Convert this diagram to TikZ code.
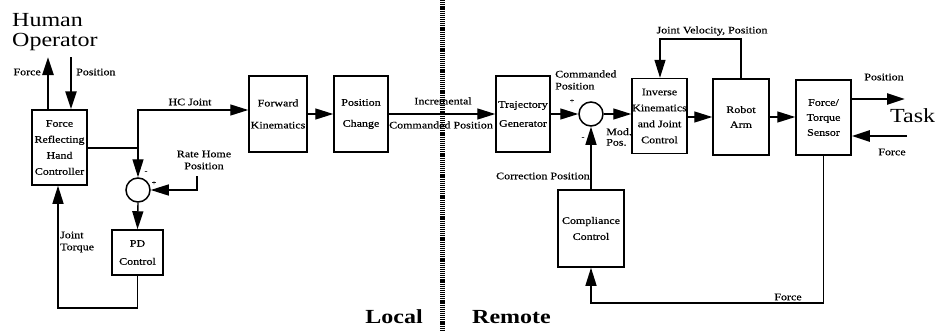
\documentclass[tikz,border=0pt]{standalone}
\usepackage{fontspec}
\setmainfont[FakeStretch=1.2]{Liberation Serif}
\newfontfamily\lblfam[FakeStretch=1.2,FakeBold=0.5]{Liberation Serif}
\usetikzlibrary{arrows.meta}
\begin{document}
\begin{tikzpicture}[x=1pt,y=-1pt,
  >={Triangle[length=18pt,width=11pt]},
  box/.style={draw,line width=1.5pt,inner sep=0pt,align=center,font=\lblfam\fontsize{10}{16}\selectfont},
  sum/.style={draw,line width=1.5pt,circle,minimum size=24pt,inner sep=0pt},
  wire/.style={line width=1.4pt},
  heavy/.style={line width=2.5pt},
  lbl/.style={inner sep=0pt,font=\lblfam\fontsize{10}{12}\selectfont},
  sign/.style={inner sep=0pt,font=\lblfam\fontsize{7}{7}\selectfont},
  big/.style={inner sep=0pt,font=\fontsize{20}{20}\selectfont},
  side/.style={inner sep=0pt,font=\fontsize{20}{20}\selectfont\bfseries},
  divider/.style={line width=5pt,dash pattern=on 1.2pt off 0.9pt}
]
\useasboundingbox (0,0) rectangle (935,330);

% ---------- local side ----------
\node[big,anchor=north west,align=left] (ho) at (12,13) {Human\\Operator};

\node[box,minimum width=55pt,minimum height=75pt] (frhc) at (59.5,147.5)
  {Force\\Reflecting\\Hand\\Controller};
\node[sum] (sl) at (138,190) {};
\node[box,minimum width=51pt,minimum height=45pt,font=\lblfam\fontsize{10}{18}\selectfont] (pd) at (137.5,252.5) {PD\\Control};
\node[box,minimum width=58pt,minimum height=76pt,font=\lblfam\fontsize{10}{22}\selectfont] (fk) at (278,114) {Forward\\Kinematics};
\node[box,minimum width=54pt,minimum height=76pt,font=\lblfam\fontsize{10}{21}\selectfont] (pc) at (361,114) {Position\\Change};

% operator force / position
\coordinate (hoF) at (48,57);
\coordinate (hoP) at (71,57);
\draw[heavy,->] (frhc.north -| hoF) -- (hoF);
\draw[heavy,->] (hoP) -- (hoP |- frhc.north);
\node[lbl,anchor=east] at (41,72) {Force};
\node[lbl,anchor=west] at (76,72) {Position};

% hand controller joint output
\coordinate (jn) at (138,148);
\coordinate (jt) at (138,110);
\draw[wire,->] (jn -| frhc.east) -- (jn) -- (jt) -- (jt -| fk.west);
\draw[wire,->] (jn) -- (sl.north);
\node[lbl] at (190,102) {HC Joint};

% rate home reference
\coordinate (rh) at (197,176);
\draw[wire,->] (rh) -- (rh |- sl.east) -- (sl.east);
\node[lbl,align=center] at (204,160) {Rate Home\\Position};
\node[sign] at (146,172) {-};
\node[sign] at (154,183) {+};

% PD loop
\draw[wire,->] (sl.south) -- (pd.north);
\coordinate (jb) at (58,308);
\draw[wire,->] (pd.south) -- (pd.south |- jb) -- (jb) -- (jb |- frhc.south);
\node[lbl,anchor=west,align=left] at (60,242) {Joint\\Torque};

\draw[wire,->] (fk.east) -- (pc.west);

% ---------- link ----------
\node[box,minimum width=54pt,minimum height=76pt,font=\lblfam\fontsize{10}{19}\selectfont] (tg) at (523,114) {Trajectory\\Generator};
\draw[wire,->] (pc.east) -- (tg.west);
\node[lbl] at (443,101) {Incremental};
\node[lbl] at (441,125) {Commanded Position};

\coordinate (dvT) at (442,0);
\coordinate (dvB) at (442,330);
\draw[divider] (dvT) -- (dvB);
\node[side,anchor=base east] at (423,323) {Local};
\node[side,anchor=base west] at (472,323) {Remote};

% ---------- remote side ----------
\node[sum] (sr) at (591,114) {};
\node[box,minimum width=55pt,minimum height=75pt] (ik) at (659.5,116) {Inverse\\Kinematics\\and Joint\\Control};
\node[box,minimum width=56pt,minimum height=76pt,font=\lblfam\fontsize{10}{15}\selectfont] (ra) at (741,117) {Robot\\Arm};
\node[box,minimum width=55pt,minimum height=75pt,font=\lblfam\fontsize{10}{15}\selectfont] (ft) at (823.5,117.5) {Force/\\Torque\\Sensor};
\node[box,minimum width=66pt,minimum height=77pt] (cc) at (591,228.5) {Compliance\\Control};

\draw[wire,->] (tg.east |- sr.west) -- (sr.west);
\node[lbl,anchor=west,align=left] at (555,80) {Commanded\\Position};
\node[sign] at (572,101) {+};
\node[sign] at (583,138) {-};

\draw[wire,->] (sr.east) -- (sr.east -| ik.west);
\node[lbl,anchor=west,align=left,font=\lblfam\fontsize{10}{10.5}\selectfont] at (606,137) {Mod.\\Pos.};

\draw[wire,->] (ra.west -| ik.east) -- (ra.west);
\draw[wire,->] (ra.east) -- (ra.east -| ft.west);

% joint state feedback
\coordinate (jvR) at (741,39);
\coordinate (jvL) at (660,39);
\draw[wire,->] (ra.north) -- (jvR) -- (jvL) -- (jvL |- ik.north);
\node[lbl] at (712,31) {Joint Velocity, Position};

% task interaction
\coordinate (tpos) at (905,99);
\coordinate (tfor) at (907,136);
\draw[heavy,->] (tpos -| ft.east) -- (tpos);
\draw[heavy,->] (tfor) -- (tfor -| ft.east);
\node[lbl] at (884,77) {Position};
\node[lbl] at (892,152) {Force};
\node[big,anchor=west] (task) at (890,116) {Task};

% force feedback to compliance control
\coordinate (fbR) at (823.5,303);
\draw[wire,->] (ft.south) -- (fbR) -- (fbR -| cc.south) -- (cc.south);
\node[lbl] at (788,297) {Force};

\draw[wire,->] (cc.north) -- (sr.south);
\node[lbl,anchor=east] at (590,176) {Correction Position};
\end{tikzpicture}
\end{document}
